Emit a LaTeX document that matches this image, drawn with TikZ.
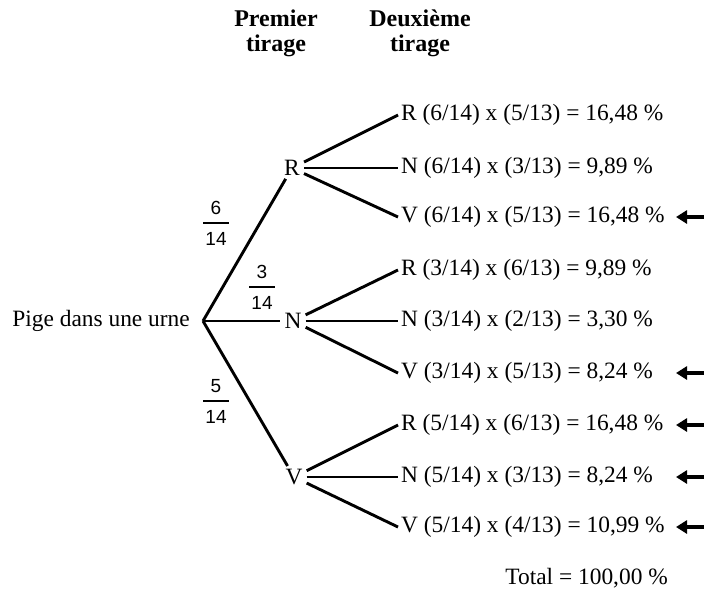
\documentclass[tikz,border=0pt]{standalone}
\usepackage{fontspec}
\setmainfont{Liberation Serif}
\setsansfont{Liberation Sans}
\usetikzlibrary{arrows.meta}

\setlength{\arrayrulewidth}{1.6pt}
\newcommand{\proba}[2]{\begin{tabular}{@{\hspace{2pt}}c@{\hspace{2pt}}}#1\\[1pt]\hline\rule{0pt}{22pt}#2\end{tabular}}

\begin{document}
\begin{tikzpicture}[
    x=1pt, y=-1pt,
    every node/.style={font=\fontsize{23.4}{26}\selectfont, inner sep=3pt},
    tirage/.style={inner xsep=4pt},
    branche/.style={line width=2.9pt},
    fleche/.style={line width=3.4pt, -{Triangle[length=11pt,width=13pt]}},
    entete/.style={font=\bfseries\fontsize{24}{25}\selectfont, align=center},
    fraction/.style={font=\sffamily\fontsize{19}{21}\selectfont, inner sep=0pt}
]

\useasboundingbox (0,0) rectangle (704,590);

% en-tetes
\node[entete] (t1) at (276,33) {Premier\\tirage};
\node[entete] (t2) at (420,33) {Deuxième\\tirage};

% racine
\node[anchor=east] (urne) at (193,321) {Pige dans une urne};
\coordinate (o) at (203,321);

% premier tirage
\node[tirage] (r) at (292,168) {R};
\node[tirage] (n) at (293,321) {N};
\node[tirage] (v) at (294,477) {V};

\draw[branche] (o) -- (r);
\draw[branche] (o) -- (n);
\draw[branche] (o) -- (v);

\node[fraction] (p1) at (216,226) {\proba{6}{14}};
\node[fraction] (p2) at (262,290) {\proba{3}{14}};
\node[fraction] (p3) at (216,404) {\proba{5}{14}};

% deuxieme tirage
\node[anchor=west] (f1) at (398,115) {R (6/14) x (5/13) = 16,48 \%};
\node[anchor=west] (f2) at (398,168) {N (6/14) x (3/13) = 9,89 \%};
\node[anchor=west] (f3) at (398,217) {V (6/14) x (5/13) = 16,48 \%};
\node[anchor=west] (f4) at (398,270) {R (3/14) x (6/13) = 9,89 \%};
\node[anchor=west] (f5) at (398,321) {N (3/14) x (2/13) = 3,30 \%};
\node[anchor=west] (f6) at (398,373) {V (3/14) x (5/13) = 8,24 \%};
\node[anchor=west] (f7) at (398,425) {R (5/14) x (6/13) = 16,48 \%};
\node[anchor=west] (f8) at (398,477) {N (5/14) x (3/13) = 8,24 \%};
\node[anchor=west] (f9) at (398,527) {V (5/14) x (4/13) = 10,99 \%};

\draw[branche] (r) -- (f1.west);
\draw[branche] (r) -- (f2.west);
\draw[branche] (r) -- (f3.west);
\draw[branche] (n) -- (f4.west);
\draw[branche] (n) -- (f5.west);
\draw[branche] (n) -- (f6.west);
\draw[branche] (v) -- (f7.west);
\draw[branche] (v) -- (f8.west);
\draw[branche] (v) -- (f9.west);

% fleches
\coordinate (bord) at (704,0);
\coordinate (pointe) at (676,0);
\foreach \i in {3,6,7,8,9}
    \draw[fleche] (bord |- f\i) -- (pointe |- f\i);

\node[anchor=east] (total) at (671,578) {Total = 100,00 \%};

\end{tikzpicture}
\end{document}
